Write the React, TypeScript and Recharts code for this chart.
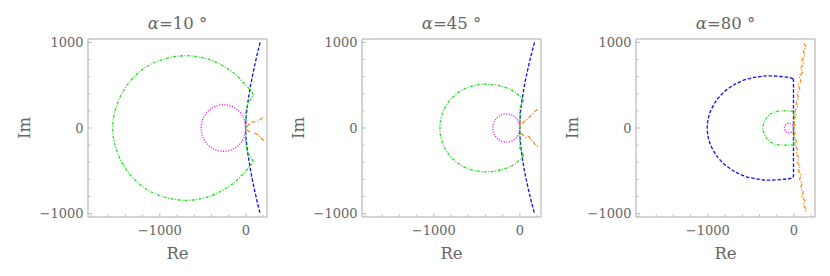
import { LineChart, Line, XAxis, YAxis, ReferenceArea } from 'recharts'

type Pt = { x: number; y: number }
const pts = (a: number[][]): Pt[] => a.map(([x, y]) => ({ x, y }))

// axis ranges + ticks (same for every panel)
const X_DOMAIN = [-1835, 245]
const Y_DOMAIN = [-1040, 1040]
const X_TICKS = [-1800, -1600, -1400, -1200, -1000, -800, -600, -400, -200, 0, 200]
const Y_TICKS = [-1000, -800, -600, -400, -200, 0, 200, 400, 600, 800, 1000]
const X_LABELED = [-1000, 0]
const Y_LABELED = [-1000, 0, 1000]
const TITLES = ['10', '45', '80']

// alpha = 10
const BLUE_10 = pts([[165, 1000], [140, 900], [117, 800], [95, 700], [74, 600], [55, 500], [38, 400], [23, 300], [10, 200], [0, 100], [-4, 0], [0, -100], [10, -200], [23, -300], [38, -400], [55, -500], [74, -600], [95, -700], [117, -800], [140, -900], [165, -1000]])
const GREEN_10_ARC = pts([[87, 390], [50, 445], [0, 500], [-100, 605], [-200, 685], [-400, 790], [-700, 845], [-1000, 790], [-1200, 685], [-1350, 540], [-1460, 365], [-1530, 165], [-1547, 0], [-1530, -165], [-1460, -365], [-1350, -540], [-1200, -685], [-1000, -790], [-700, -845], [-400, -790], [-200, -685], [-100, -605], [0, -500], [50, -445], [87, -390]])
const GREEN_10_TIP = pts([[87, -390], [20, -280], [0, -200], [0, 200], [20, 280], [87, 390]])
const MAGENTA_10 = pts([[0, 0], [-35, 136], [-130, 236], [-260, 272], [-390, 236], [-485, 136], [-520, 0], [-485, -136], [-390, -236], [-260, -272], [-130, -236], [-35, -136], [0, 0]])
const ORANGE_10_A = pts([[45, 50], [-5, 0], [45, -50]])
const ORANGE_10_B = pts([[66, 68], [140, 78], [213, 134]])
const ORANGE_10_C = pts([[100, -60], [150, -84], [213, -155]])

// alpha = 45
const BLUE_45 = pts([[170, 1000], [143, 900], [118, 800], [95, 700], [73, 600], [53, 500], [36, 400], [21, 300], [9, 200], [1, 100], [-2, 0], [1, -100], [9, -200], [21, -300], [36, -400], [53, -500], [73, -600], [95, -700], [118, -800], [143, -900], [170, -1000]])
const GREEN_45_ARC = pts([[45, 320], [0, 370], [-40, 405], [-100, 445], [-186, 480], [-280, 502], [-379, 512], [-480, 505], [-590, 480], [-700, 425], [-800, 340], [-865, 250], [-913, 130], [-930, 0], [-913, -130], [-865, -250], [-800, -340], [-700, -425], [-590, -480], [-480, -505], [-379, -512], [-280, -502], [-186, -480], [-100, -445], [-40, -405], [0, -370], [45, -320]])
const GREEN_45_TIP = pts([[45, -320], [5, -250], [0, -240], [0, 240], [5, 250], [45, 320]])
const MAGENTA_45 = pts([[0, 0], [-21, 83], [-79, 144], [-157, 166], [-235, 144], [-293, 83], [-314, 0], [-293, -83], [-235, -144], [-157, -166], [-79, -144], [-21, -83], [0, 0]])
const ORANGE_45_A = pts([[-5, 75], [5, 45], [-8, 20], [3, -15]])
const ORANGE_45_B = pts([[28, 56], [70, 90], [100, 120], [124, 140], [163, 181], [195, 210], [221, 220]])
const ORANGE_45_C = pts([[16, -61], [66, -111], [105, -99], [144, -151], [175, -190], [202, -209], [221, -225]])

// alpha = 80
const BLUE_80_ARC = pts([[-10, 578], [-50, 590], [-150, 602], [-300, 609], [-420, 598], [-549, 570], [-660, 524], [-704, 500], [-771, 454], [-833, 400], [-889, 337], [-915, 300], [-968, 200], [-997, 100], [-1007, 0], [-997, -100], [-968, -200], [-915, -300], [-889, -337], [-833, -400], [-771, -454], [-704, -500], [-660, -524], [-549, -570], [-420, -598], [-300, -609], [-150, -602], [-50, -590], [-10, -578]])
const BLUE_80_EDGE = pts([[-10, -578], [-5, -555], [-5, 555], [-10, 578]])
const GREEN_80_ARC = pts([[-8, 194], [-128, 200], [-244, 181], [-321, 111], [-360, 0], [-321, -111], [-244, -181], [-128, -200], [-8, -197]])
const GREEN_80_EDGE = pts([[-8, -197], [0, -190], [0, 190], [-8, 194]])
const MAGENTA_80 = pts([[-6, 0], [-13, 28], [-32, 48], [-58, 56], [-84, 48], [-103, 28], [-110, 0], [-103, -28], [-84, -48], [-58, -56], [-32, -48], [-13, -28], [-6, 0]])
const ORANGE_80 = pts([[116, 990], [140, 950], [110, 900], [128, 850], [94, 800], [114, 750], [80, 700], [99, 650], [64, 600], [82, 550], [51, 500], [68, 450], [38, 400], [54, 350], [26, 300], [40, 250], [12, 200], [26, 150], [0, 100], [14, 50], [-4, 0], [14, -50], [2, -100], [28, -150], [14, -200], [42, -250], [28, -300], [56, -350], [40, -400], [70, -450], [54, -500], [84, -550], [66, -600], [96, -650], [78, -700], [110, -750], [92, -800], [129, -850], [108, -900], [144, -950], [132, -975]])

const BLUE = '#1010f0'
const GREEN = '#22e022'
const MAGENTA = '#ee22ee'
const ORANGE = '#ff8a1a'
const TEXT = '#666'
const FRAME = '#aaa'
const TICK = '#bbb'
const FONT = '"DejaVu Serif", serif'

type Series = { data: Pt[]; color: string; dash: string; curve: 'natural' | 'linear' }

const dashed = (data: Pt[], curve: Series['curve'] = 'natural'): Series => ({ data, color: BLUE, dash: '3.5 1.8', curve })
const dashDot = (data: Pt[], curve: Series['curve'] = 'natural'): Series => ({ data, color: GREEN, dash: '3 1.5 1 1.5', curve })
const dotted = (data: Pt[]): Series => ({ data, color: MAGENTA, dash: '1.2 1.4', curve: 'natural' })
const orange = (data: Pt[]): Series => ({ data, color: ORANGE, dash: '4 1.5 1.2 1.5', curve: 'linear' })

const PANELS: Series[][] = [
  [dashed(BLUE_10), dashDot(GREEN_10_ARC), dashDot(GREEN_10_TIP, 'linear'), dotted(MAGENTA_10), orange(ORANGE_10_A), orange(ORANGE_10_B), orange(ORANGE_10_C)],
  [dashed(BLUE_45), dashDot(GREEN_45_ARC), dashDot(GREEN_45_TIP, 'linear'), dotted(MAGENTA_45), orange(ORANGE_45_A), orange(ORANGE_45_B), orange(ORANGE_45_C)],
  [dashed(BLUE_80_ARC), dashed(BLUE_80_EDGE, 'linear'), dashDot(GREEN_80_ARC), dashDot(GREEN_80_EDGE, 'linear'), dotted(MAGENTA_80), orange(ORANGE_80)],
]

const FRAME_LEFT = [88, 362, 636]
const FRAME_TOP = 39
const FRAME_W = 179
const FRAME_H = 178
const Y_AXIS_W = 60

const fmt = (v: number) => (v < 0 ? '\u2212' + Math.abs(v) : String(v))

function XTick({ x, y, payload }: any) {
  const major = X_LABELED.includes(payload.value)
  return (
    <g>
      <line x1={x} x2={x} y1={y} y2={y - (major ? 4 : 2.5)} stroke={TICK} />
      {major && (
        <text x={x} y={y + 18} textAnchor="middle" fontSize={13} fontFamily={FONT} fill={TEXT}>
          {fmt(payload.value)}
        </text>
      )}
    </g>
  )
}

function YTick({ x, y, payload }: any) {
  const major = Y_LABELED.includes(payload.value)
  return (
    <g>
      <line x1={x} x2={x + (major ? 4 : 2.5)} y1={y} y2={y} stroke={TICK} />
      {major && (
        <text x={x - 4.5} y={y + 4.7} textAnchor="end" fontSize={13} fontFamily={FONT} fill={TEXT}>
          {fmt(payload.value)}
        </text>
      )}
    </g>
  )
}

function Panel({ series }: { series: Series[] }) {
  const xAxisH = 276 - FRAME_TOP - FRAME_H
  return (
    <LineChart
      width={Y_AXIS_W + FRAME_W + 10}
      height={276}
      margin={{ top: FRAME_TOP, right: 10, bottom: 0, left: 0 }}
    >
      <XAxis
        type="number"
        dataKey="x"
        domain={X_DOMAIN}
        allowDataOverflow
        ticks={X_TICKS}
        interval={0}
        tick={<XTick />}
        tickLine={false}
        tickSize={0}
        tickMargin={0}
        axisLine={false}
        height={xAxisH}
      />
      <YAxis
        type="number"
        dataKey="y"
        domain={Y_DOMAIN}
        allowDataOverflow
        ticks={Y_TICKS}
        interval={0}
        tick={<YTick />}
        tickLine={false}
        tickSize={0}
        tickMargin={0}
        axisLine={false}
        width={Y_AXIS_W}
      />
      <ReferenceArea x1={X_DOMAIN[0]} x2={X_DOMAIN[1]} y1={Y_DOMAIN[0]} y2={Y_DOMAIN[1]} fill="none" stroke={FRAME} strokeWidth={1} />
      {series.map((s, i) => (
        <Line
          key={i}
          data={s.data}
          dataKey="y"
          type={s.curve}
          stroke={s.color}
          strokeWidth={1.3}
          strokeDasharray={s.dash}
          dot={false}
          activeDot={false}
          isAnimationActive={false}
        />
      ))}
    </LineChart>
  )
}

export default function App() {
  return (
    <div style={{ position: 'absolute', left: 0, top: 0, width: 830, height: 276, background: '#fff' }}>
      {PANELS.map((series, i) => (
        <div key={i} style={{ position: 'absolute', left: FRAME_LEFT[i] - Y_AXIS_W, top: 0 }}>
          <Panel series={series} />
        </div>
      ))}
      <svg width={830} height={276} style={{ position: 'absolute', left: 0, top: 0, pointerEvents: 'none' }}>
        {FRAME_LEFT.map((left, i) => {
          const cx = left + FRAME_W / 2
          return (
            <g key={i} fontFamily={FONT} fill={TEXT}>
              <text x={cx} y={28.5} textAnchor="middle" fontSize={16.5}>
                <tspan fontStyle="italic">α</tspan>={TITLES[i]} °
              </text>
              <text x={cx} y={259} textAnchor="middle" fontSize={16.5}>
                Re
              </text>
              <text transform={`translate(${left - 63.5}, ${FRAME_TOP + FRAME_H / 2}) rotate(-90)`} textAnchor="middle" dy="0.35em" fontSize={16.5}>
                Im
              </text>
            </g>
          )
        })}
      </svg>
    </div>
  )
}
